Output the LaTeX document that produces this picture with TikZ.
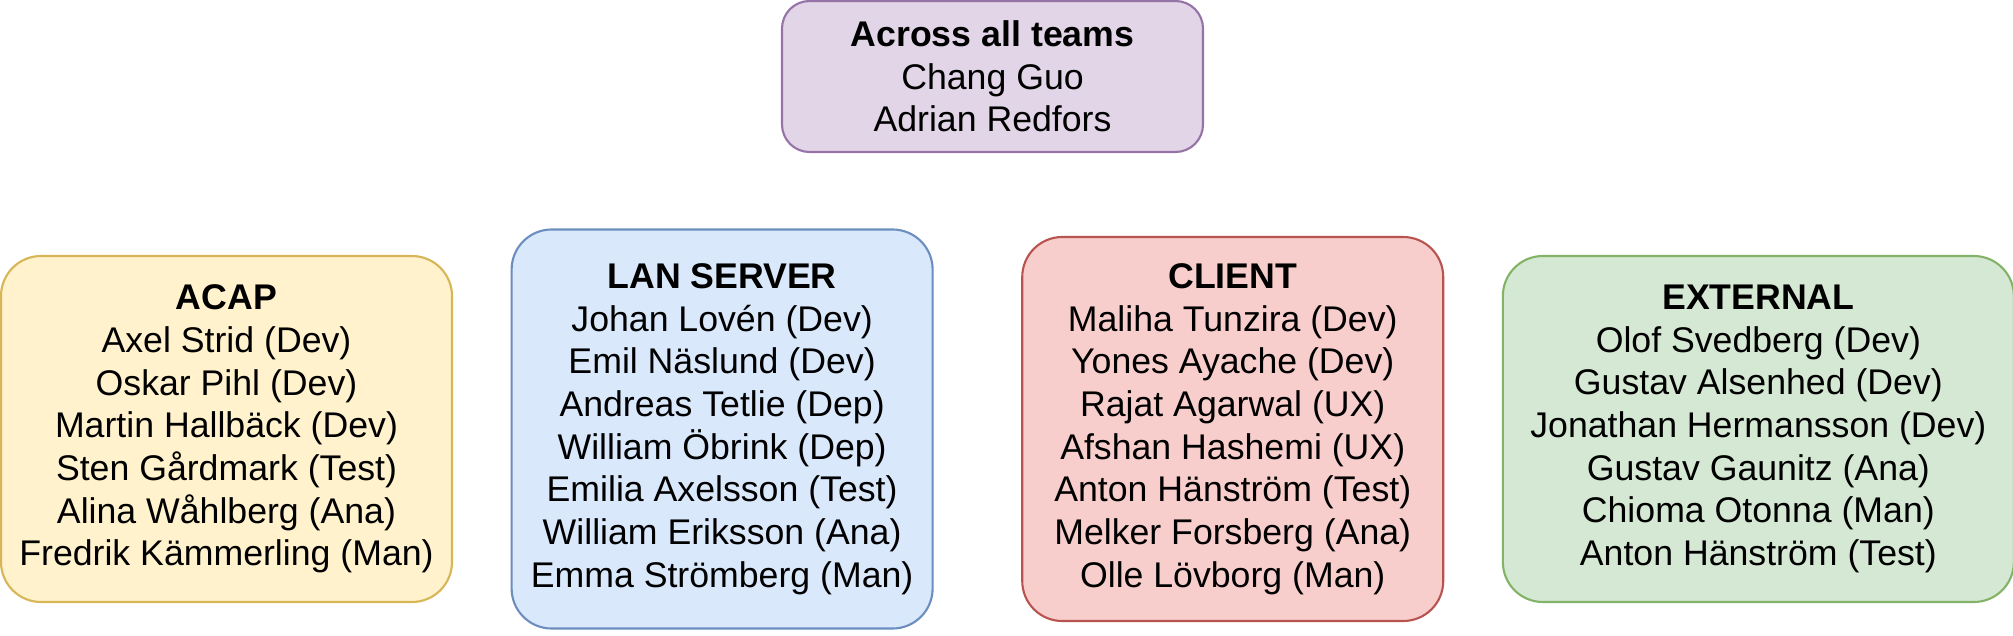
\documentclass[tikz,border=0pt]{standalone}
\usepackage{fontspec}
\setmainfont{Liberation Sans}
\usepackage{tikz}
\usetikzlibrary{positioning}

\definecolor{allfill}{HTML}{E1D5E7}
\definecolor{alldraw}{HTML}{9673A6}
\definecolor{acapfill}{HTML}{FFF2CC}
\definecolor{acapdraw}{HTML}{D6B656}
\definecolor{lanfill}{HTML}{DAE8FC}
\definecolor{landraw}{HTML}{6C8EBF}
\definecolor{clientfill}{HTML}{F8CECC}
\definecolor{clientdraw}{HTML}{B85450}
\definecolor{extfill}{HTML}{D5E8D4}
\definecolor{extdraw}{HTML}{82B366}

\begin{document}
\begin{tikzpicture}[
  x=0.2mm, y=-0.2mm,
  font=\fontsize{20.3}{24.3}\selectfont,
  every node/.style={align=center},
  team/.style={draw, line width=1.2pt, rounded corners=0.8cm, inner sep=0pt, minimum width=8.42cm},
  allteams/.style={team, rounded corners=0.55cm, fill=allfill, draw=alldraw, minimum height=3.02cm},
  acap/.style={team, fill=acapfill, draw=acapdraw, minimum width=9.02cm, minimum height=6.92cm},
  lan/.style={team, fill=lanfill, draw=landraw, minimum height=7.98cm},
  client/.style={team, fill=clientfill, draw=clientdraw, minimum height=7.68cm},
  ext/.style={team, fill=extfill, draw=extdraw, minimum width=10.22cm, minimum height=6.92cm}
]
\useasboundingbox (0,0) rectangle (2013,636);

% top box, shared by every team
\node[allteams] (all) at (992.5,76.5) {\textbf{Across all teams}\\Chang Guo\\Adrian Redfors};

% the four teams
\node[acap] (acap) at (226.5,429) {\textbf{ACAP}\\Axel Strid (Dev)\\Oskar Pihl (Dev)\\Martin Hallbäck (Dev)\\Sten Gårdmark (Test)\\Alina Wåhlberg (Ana)\\Fredrik Kämmerling (Man)};
\node[lan, right=1.15cm of acap] (lan) {\textbf{LAN SERVER}\\Johan Lovén (Dev)\\Emil Näslund (Dev)\\Andreas Tetlie (Dep)\\William Öbrink (Dep)\\Emilia Axelsson (Test)\\William Eriksson (Ana)\\Emma Strömberg (Man)};
\node[client, right=1.75cm of lan] (client) {\textbf{CLIENT}\\Maliha Tunzira (Dev)\\Yones Ayache (Dev)\\Rajat Agarwal (UX)\\Afshan Hashemi (UX)\\Anton Hänström (Test)\\Melker Forsberg (Ana)\\Olle Lövborg (Man)};
\node[ext, right=1.15cm of client] (ext) {\textbf{EXTERNAL}\\Olof Svedberg (Dev)\\Gustav Alsenhed (Dev)\\Jonathan Hermansson (Dev)\\Gustav Gaunitz (Ana)\\Chioma Otonna (Man)\\Anton Hänström (Test)};
\end{tikzpicture}
\end{document}
